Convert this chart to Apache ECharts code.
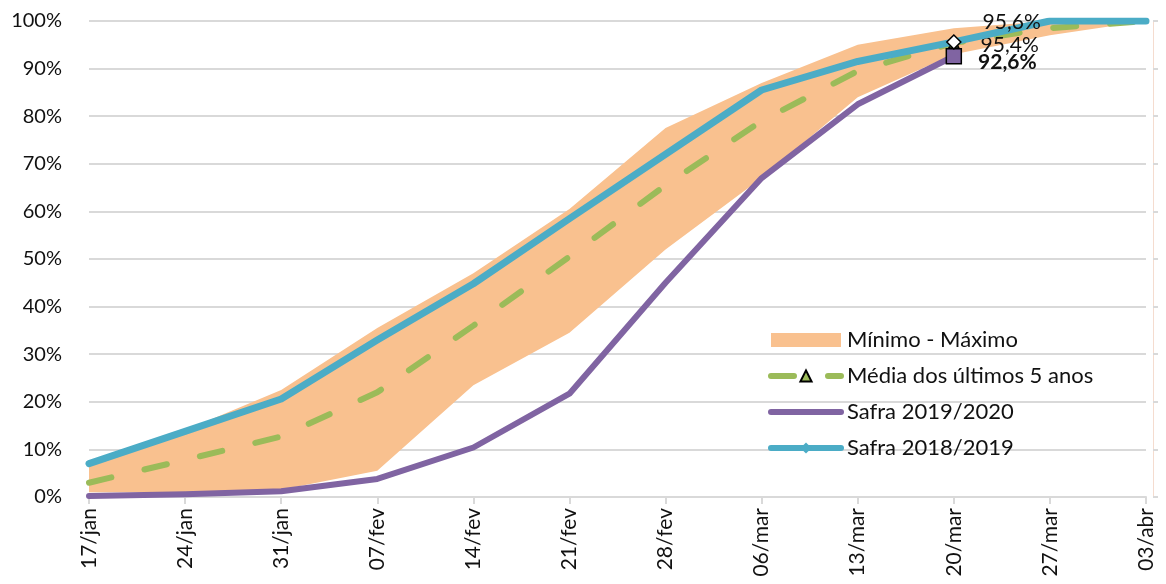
<!DOCTYPE html>
<html><head><meta charset="utf-8">
<script src="https://cdn.jsdelivr.net/npm/echarts@6/dist/echarts.min.js"></script>
<style>html,body{margin:0;padding:0;background:#fff}#c{width:1166px;height:584px}</style>
</head><body><div id="c"></div>
<script>
const categories = ['17/jan','24/jan','31/jan','07/fev','14/fev','21/fev','28/fev','06/mar','13/mar','20/mar','27/mar','03/abr'];
const minValues  = [1.0, 1.0, 1.5, 5.5, 23.5, 34.5, 52.0, 67.0, 84.0, 93.0, 97.0, 100];
const maxValues  = [7.0, 14.0, 22.5, 35.5, 47.0, 60.5, 77.5, 87.0, 95.0, 98.5, 100, 100];
const media5     = [3.0, 7.8, 12.7, 22.0, 36.0, 50.5, 65.5, 79.0, 89.5, 95.4, 98.5, 100];
const safra1920  = [0.2, 0.6, 1.2, 3.8, 10.4, 21.7, 45.0, 67.0, 82.5, 92.6, null, null];
const safra1819  = [7.0, 13.8, 20.6, 33.0, 44.8, 58.5, 72.0, 85.5, 91.5, 95.6, 100, 100];

const FONT = 'Lato';
const LBL = 9; // index of 20/mar
const fmt = v => v.toFixed(1).replace('.', ',') + '%';
const bandDiff = maxValues.map((v,i) => v - minValues[i]);
const TXT = '#111';

const chart = echarts.init(document.getElementById('c'));
chart.setOption({
  animation:false,
  textStyle:{fontFamily:FONT},
  grid:{left:89,right:20,top:21,bottom:87,containLabel:false},
  legend:{
    left:763, top:324, orient:'vertical', itemWidth:70, itemHeight:14, itemGap:14,
    textStyle:{fontFamily:FONT,fontSize:22,color:TXT,padding:[0,0,0,1]},
    data:[
      {name:'Mínimo - Máximo',icon:'rect'},
      {name:'Média dos últimos 5 anos',lineStyle:{width:6},itemStyle:{color:'#9BBB59',borderColor:'#000',borderWidth:2}},
      {name:'Safra 2019/2020',lineStyle:{width:6},itemStyle:{color:'rgba(0,0,0,0)',borderWidth:0}},
      {name:'Safra 2018/2019',lineStyle:{width:6},itemStyle:{color:'#4BACC6',borderWidth:0}}
    ]
  },
  xAxis:{type:'category',data:categories,boundaryGap:false,
    axisLine:{lineStyle:{color:'#D9D9D9',width:2}},
    axisTick:{show:true,length:7,lineStyle:{color:'#D9D9D9',width:2}},
    axisLabel:{rotate:90,fontSize:21,color:TXT,margin:11,fontFamily:FONT}},
  yAxis:[
    {type:'value',min:0,max:100,interval:10,
    axisLine:{show:false},axisTick:{show:false},
    splitLine:{lineStyle:{color:'#D9D9D9',width:2}},
    axisLabel:{fontSize:20,color:TXT,margin:27,fontFamily:FONT,formatter:v=>v+'%'}},
    {type:'value',min:0,max:100,interval:10,position:'right',offset:7,
    axisLine:{show:true,lineStyle:{color:'#F5DCCF',width:1}},
    axisTick:{show:true,length:5,lineStyle:{color:'#D9D9D9',width:2}},
    axisLabel:{show:false},splitLine:{show:false}}
  ],
  series:[
    {name:'band-min',type:'line',stack:'band',data:minValues,symbol:'none',lineStyle:{width:0},silent:true,z:1},
    {name:'Mínimo - Máximo',type:'line',stack:'band',data:bandDiff,symbol:'none',
      lineStyle:{width:0,color:'#F9C18F'},itemStyle:{color:'#F9C18F'},
      areaStyle:{color:'#F9C18F',opacity:1},z:1},
    {name:'Média dos últimos 5 anos',type:'line',data:media5.map((v,i)=> i===LBL ?
        {value:v,symbol:'triangle',symbolSize:10,label:{show:true,position:'right',offset:[16,2],formatter:()=>fmt(v),fontSize:21,color:TXT,fontFamily:FONT}} :
        {value:v,symbol:'none'}),
      symbol:'triangle',symbolSize:10,
      lineStyle:{color:'#9BBB59',width:6,type:[23,34],cap:'round'},
      itemStyle:{color:'#9BBB59',borderColor:'#000',borderWidth:1.5},z:3},
    {name:'Safra 2019/2020',type:'line',data:safra1920.map((v,i)=> i===LBL ?
        {value:v,symbol:'rect',symbolSize:15,itemStyle:{color:'#8064A2',borderColor:'#000',borderWidth:1.5},
         label:{show:true,position:'right',offset:[11,6],formatter:()=>fmt(v),fontSize:21,fontWeight:'bold',color:TXT,fontFamily:FONT}} :
        {value:v,symbol:'none'}),
      symbol:'none',
      lineStyle:{color:'#8064A2',width:6,cap:'round',join:'round'},itemStyle:{color:'#8064A2'},z:4},
    {name:'Safra 2018/2019',type:'line',data:safra1819.map((v,i)=> i===LBL ?
        {value:v,symbol:'diamond',symbolSize:14,itemStyle:{color:'#fff',borderColor:'#000',borderWidth:1.5},
         label:{show:true,position:'right',offset:[16,-20],formatter:()=>fmt(v),fontSize:21,color:TXT,fontFamily:FONT}} :
        {value:v,symbol:'none'}),
      symbol:'diamond',symbolSize:8,
      lineStyle:{color:'#4BACC6',width:7,cap:'round',join:'round'},itemStyle:{color:'#4BACC6'},z:5}
  ]
});
</script></body></html>
